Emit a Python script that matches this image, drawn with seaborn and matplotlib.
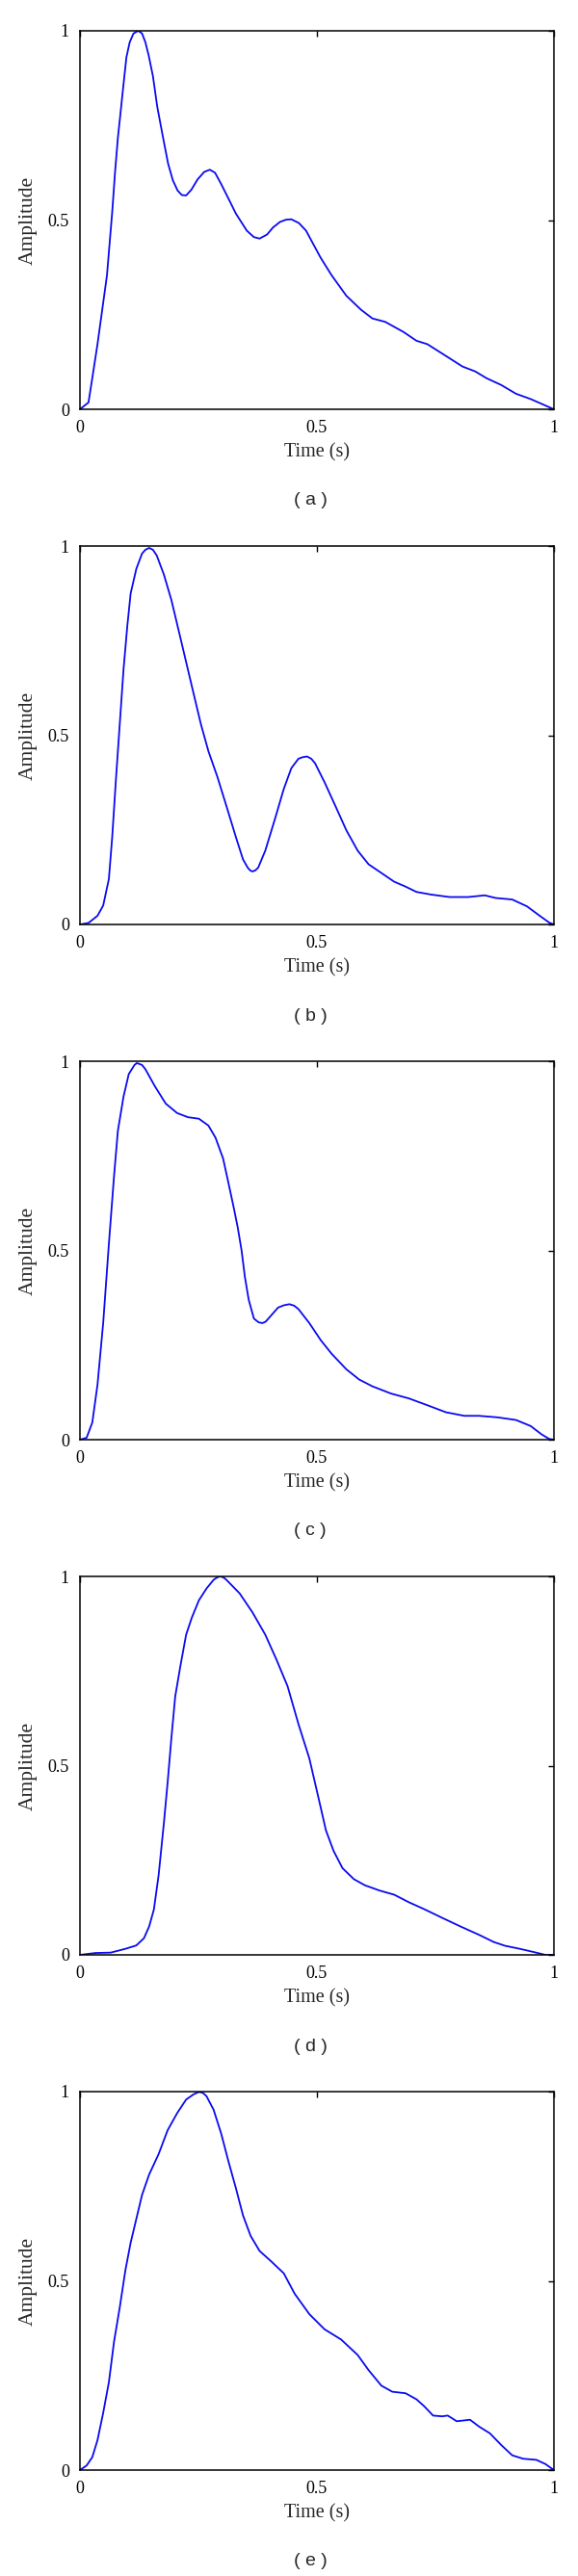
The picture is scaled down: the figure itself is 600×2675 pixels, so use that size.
import matplotlib
matplotlib.use("Agg")
import matplotlib.pyplot as plt
import seaborn as sns
import pandas as pd

# pulse waveforms, time (s) vs normalised amplitude
time_a = [0, 0.018, 0.026, 0.037, 0.047, 0.057, 0.063, 0.068, 0.074, 0.080, 0.085, 0.092,
          0.098, 0.105, 0.113, 0.123, 0.131, 0.138, 0.145, 0.154, 0.163, 0.175, 0.186, 0.196,
          0.206, 0.215, 0.224, 0.235, 0.248, 0.262, 0.274, 0.285, 0.298, 0.314, 0.329, 0.352,
          0.367, 0.379, 0.395, 0.407, 0.422, 0.435, 0.446, 0.462, 0.477, 0.508, 0.531,
          0.562, 0.593, 0.617, 0.644, 0.683, 0.710, 0.733, 0.772, 0.807, 0.834, 0.858, 0.889,
          0.920, 0.951, 1.0]
amp_a = [0, 0.018, 0.082, 0.172, 0.263, 0.354, 0.445, 0.52, 0.626, 0.717, 0.776, 0.86,
         0.93, 0.97, 0.993, 1.0, 0.993, 0.97, 0.935, 0.88, 0.80, 0.72, 0.649, 0.605,
         0.578, 0.566, 0.565, 0.58, 0.607, 0.627, 0.633, 0.625, 0.595, 0.555, 0.517, 0.472,
         0.455, 0.451, 0.462, 0.48, 0.495, 0.501, 0.502, 0.492, 0.472, 0.40, 0.354,
         0.30, 0.263, 0.24, 0.231, 0.204, 0.181, 0.172, 0.141, 0.113, 0.10, 0.082, 0.064,
         0.041, 0.027, 0]

time_b = [0, 0.018, 0.037, 0.049, 0.061, 0.068, 0.076, 0.084, 0.092, 0.100, 0.107, 0.119,
          0.131, 0.138, 0.146, 0.154, 0.162, 0.177, 0.193, 0.212, 0.236, 0.255, 0.271, 0.290,
          0.309, 0.329, 0.344, 0.354, 0.359, 0.364, 0.370, 0.376, 0.391, 0.411, 0.430, 0.446,
          0.461, 0.470, 0.479, 0.488, 0.496, 0.516, 0.539, 0.562, 0.586, 0.609, 0.636, 0.663,
          0.687, 0.710, 0.741, 0.780, 0.819, 0.854, 0.877, 0.912, 0.943, 0.970, 0.990, 1.0]
amp_b = [0, 0.004, 0.023, 0.05, 0.12, 0.23, 0.385, 0.53, 0.675, 0.79, 0.875, 0.94,
         0.98, 0.99, 0.995, 0.99, 0.975, 0.925, 0.857, 0.757, 0.63, 0.53, 0.458, 0.39,
         0.313, 0.231, 0.172, 0.15, 0.143, 0.14, 0.143, 0.15, 0.195, 0.277, 0.358, 0.413,
         0.438, 0.442, 0.444, 0.438, 0.426, 0.376, 0.313, 0.249, 0.195, 0.159, 0.136, 0.113,
         0.10, 0.086, 0.079, 0.0725, 0.0725, 0.077, 0.07, 0.066, 0.048, 0.023, 0.005, 0]

time_c = [0, 0.014, 0.026, 0.037, 0.049, 0.061, 0.072, 0.080, 0.092, 0.103, 0.115, 0.120,
          0.125, 0.131, 0.138, 0.158, 0.181, 0.205, 0.228, 0.251, 0.271, 0.286, 0.302, 0.313,
          0.325, 0.333, 0.341, 0.348, 0.356, 0.367, 0.377, 0.385, 0.392, 0.399, 0.418, 0.430,
          0.442, 0.452, 0.461, 0.484, 0.508, 0.531, 0.562, 0.589, 0.617, 0.656, 0.694, 0.733,
          0.772, 0.811, 0.842, 0.881, 0.920, 0.951, 0.974, 0.990, 1.0]
amp_c = [0, 0.005, 0.045, 0.145, 0.308, 0.517, 0.698, 0.816, 0.907, 0.966, 0.99, 0.995,
         0.993, 0.99, 0.979, 0.934, 0.888, 0.863, 0.852, 0.848, 0.83, 0.798, 0.743, 0.68,
         0.61, 0.56, 0.50, 0.43, 0.37, 0.32, 0.31, 0.308, 0.312, 0.322, 0.349, 0.355,
         0.358, 0.354, 0.345, 0.308, 0.263, 0.227, 0.186, 0.159, 0.141, 0.122, 0.109, 0.091,
         0.0725, 0.063, 0.063, 0.059, 0.052, 0.036, 0.014, 0.002, 0]

time_d = [0, 0.033, 0.065, 0.096, 0.119, 0.135, 0.146, 0.156, 0.166, 0.177, 0.185, 0.193,
          0.201, 0.212, 0.224, 0.236, 0.251, 0.267, 0.282, 0.289, 0.295, 0.302, 0.309, 0.337,
          0.364, 0.391, 0.414, 0.438, 0.461, 0.484, 0.504, 0.519, 0.535, 0.554, 0.578, 0.601,
          0.632, 0.663, 0.694, 0.726, 0.764, 0.803, 0.842, 0.873, 0.897, 0.928, 0.959, 0.982,
          1.0]
amp_d = [0, 0.005, 0.006, 0.016, 0.025, 0.044, 0.075, 0.12, 0.211, 0.347, 0.456, 0.574,
         0.683, 0.764, 0.846, 0.891, 0.937, 0.968, 0.991, 0.997, 1.0, 0.998, 0.991, 0.955,
         0.905, 0.846, 0.782, 0.71, 0.61, 0.519, 0.411, 0.329, 0.275, 0.229, 0.2, 0.184,
         0.17, 0.159, 0.139, 0.121, 0.098, 0.075, 0.053, 0.034, 0.024, 0.016, 0.007, 0,
         0]

time_e = [0, 0.014, 0.026, 0.037, 0.049, 0.061, 0.072, 0.084, 0.096, 0.107, 0.119, 0.131,
          0.146, 0.166, 0.185, 0.205, 0.224, 0.240, 0.251, 0.259, 0.267, 0.282, 0.298, 0.313,
          0.329, 0.344, 0.360, 0.379, 0.403, 0.430, 0.453, 0.484, 0.516, 0.551, 0.586, 0.609,
          0.636, 0.659, 0.687, 0.710, 0.726, 0.745, 0.764, 0.776, 0.795, 0.823, 0.842, 0.865,
          0.889, 0.912, 0.935, 0.963, 0.982, 1.0]
amp_e = [0, 0.012, 0.034, 0.079, 0.151, 0.232, 0.34, 0.43, 0.529, 0.601, 0.664, 0.727,
         0.781, 0.835, 0.898, 0.943, 0.979, 0.993, 0.999, 0.997, 0.988, 0.952, 0.889, 0.817,
         0.745, 0.673, 0.619, 0.579, 0.552, 0.52, 0.466, 0.412, 0.372, 0.345, 0.304, 0.264,
         0.223, 0.207, 0.203, 0.187, 0.169, 0.144, 0.142, 0.144, 0.129, 0.133, 0.115, 0.097,
         0.066, 0.039, 0.03, 0.027, 0.016, 0]

panel_labels = ["( a )", "( b )", "( c )", "( d )", "( e )"]
tick_values = [0, 0.5, 1]
tick_labels = ["0", "0.5", "1"]

series = [(time_a, amp_a), (time_b, amp_b), (time_c, amp_c), (time_d, amp_d), (time_e, amp_e)]

sns.set_style("white")
plt.rcParams["font.family"] = ["Liberation Serif", "DejaVu Serif"]

W, H = 600, 2675
fig = plt.figure(figsize=(W / 100, H / 100), dpi=100)

ax_left, ax_w, ax_h = 83, 492, 393
first_top, step = 32, 535

for i, (t, amp) in enumerate(series):
    top = first_top + step * i
    ax = fig.add_axes([ax_left / W, 1 - (top + ax_h) / H, ax_w / W, ax_h / H])
    df = pd.DataFrame({"Time": t, "Amplitude": amp})
    sns.lineplot(data=df, x="Time", y="Amplitude", ax=ax, color="#0a0af0",
                 linewidth=1.3, estimator=None)
    ax.set_xlim(0, 1)
    ax.set_ylim(0, 1)
    ax.set_xticks(tick_values)
    ax.set_xticklabels(tick_labels)
    ax.set_yticks(tick_values)
    ax.set_yticklabels(tick_labels)
    ax.tick_params(direction="in", length=4, width=1, colors="black",
                   top=True, right=True, labelsize=13, pad=8)
    for sp in ax.spines.values():
        sp.set_visible(True)
        sp.set_color("black")
        sp.set_linewidth(1.1)
    ax.set_xlabel("Time (s)", fontsize=14.5, labelpad=5)
    ax.set_ylabel("Amplitude", fontsize=15.5, labelpad=8)
    fig.text(322 / W, 1 - (top + 488) / H, panel_labels[i], ha="center", va="center",
             fontsize=14, family=["Liberation Sans", "DejaVu Sans"])

fig.savefig("out.png", dpi=100)
